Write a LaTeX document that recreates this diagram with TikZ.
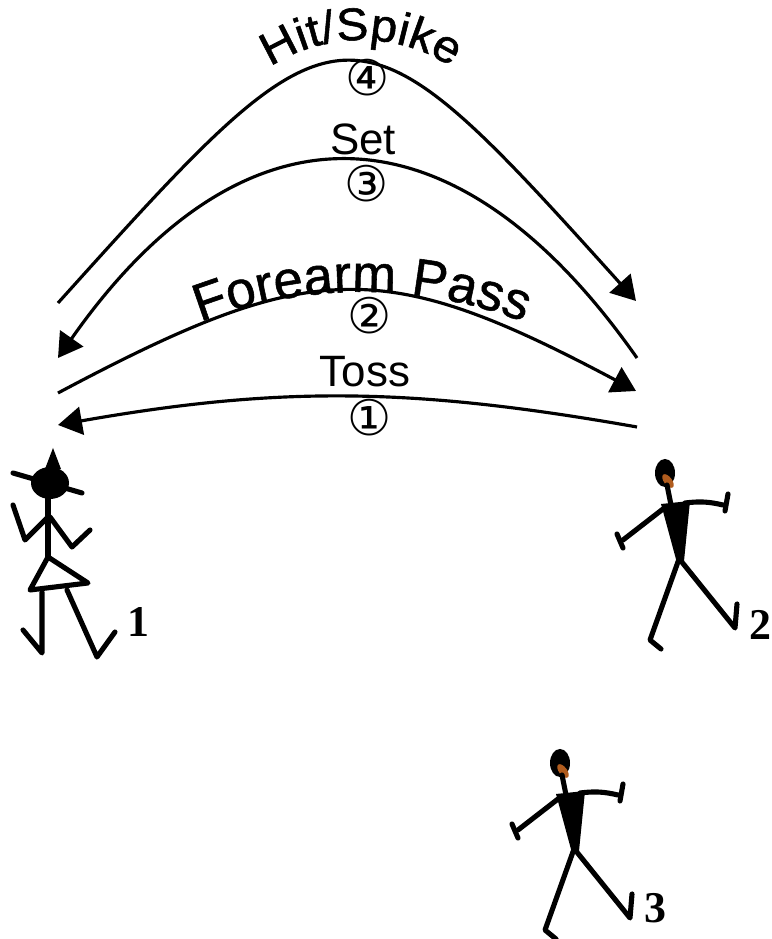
\documentclass[tikz,border=0pt]{standalone}
\usepackage{fontspec}
\setmainfont{Liberation Sans}
\newfontfamily\circfont{DejaVu Sans}
\newfontfamily\numfont{Liberation Serif}
\newfontfamily\spikefont[FakeStretch=1.05,FakeBold=1.2]{Liberation Sans}
\newfontfamily\passfont[FakeBold=1]{Liberation Sans}
\usetikzlibrary{arrows.meta,decorations.text}

\definecolor{skin}{RGB}{176,92,30}

\tikzset{
  motion/.style={line width=1.8pt, -{Triangle[length=0.48cm,width=0.56cm]}},
  stick/.style={line width=2.9pt, line cap=round, line join=round},
  skill/.style={font=\fontsize{25}{30}\selectfont, anchor=base},
  order/.style={font=\circfont\fontsize{28}{32}\selectfont},
  player/.style={font=\numfont\bfseries\fontsize{25}{30}\selectfont},
  % stick man walking to the right
  walker/.pic={
    \fill (0,0) ellipse[x radius=10, y radius=14];
    \fill[skin, rotate around={37:(3,-8)}] (3,-8) ellipse[x radius=4, y radius=8];
    \fill (-4,-31) -- (25,-28) -- (19,-88) -- (12,-90) -- cycle;
    \draw[stick] (2,-12) -- (6,-32);
    % arms
    \draw[stick] (-2,-36) -- (-42,-67);
    \draw[stick] (-48,-61) -- (-42,-75);
    \draw[stick] (20,-30) to[bend left=10] (58,-32);
    \draw[stick] (63,-21) -- (60,-38);
    % legs
    \draw[stick] (14,-86) -- (-15,-167) -- (-4,-176);
    \draw[stick] (16,-88) -- (70,-155) -- (72,-131);
  }
}

\begin{document}
\begin{tikzpicture}[x=0.02cm, y=0.02cm]
    \useasboundingbox (0,0) rectangle (771,939);

    % Ends of the four passes
    \coordinate (tossR) at (637,512);
    \coordinate (tossL) at (58,514);
    \coordinate (passL) at (58,546);
    \coordinate (passR) at (636,548);
    \coordinate (setR) at (637,581);
    \coordinate (setL) at (58,581);
    \coordinate (hitL) at (58,636);
    \coordinate (hitR) at (636,638);

    % Passes
    \draw[motion] (tossR) to[out=170, in=10] (tossL);
    \draw[motion] (passL) to[out=28, in=152, looseness=1.27] (passR);
    \draw[motion] (setR) to[out=125, in=55, looseness=1.42] (setL);
    \draw[motion] (hitL) to[out=48, in=132, looseness=1.9] (hitR);

    % Labels
    \node[skill] (toss) at (365,552) {Toss};
    \node[skill] (set) at (363,784) {Set};
    \node[order] (first) at (370,521) {①};
    \node[order] (second) at (370,623) {②};
    \node[order] (third) at (367,755) {③};
    \node[order] (fourth) at (368,861) {④};

    % Curved labels
    \path[decorate, decoration={text along path, text align=center,
        text={|\passfont\fontsize{30}{34}\selectfont|Forearm Pass}}]
        (362,197) ++(125:450) arc[start angle=125, end angle=55, radius=450];
    \path[decorate, decoration={text along path, text align=center,
        text={|\spikefont\fontsize{26}{30}\selectfont|Hit/Spike}}]
        (361,734) ++(155:165) arc[start angle=155, end angle=25, radius=165];

    % Player 1
    \fill (50,456) ellipse[x radius=19, y radius=16];
    \draw[stick] (13,466) -- (82,446);
    \fill (45,470) -- (53,491) -- (61,470) -- cycle;
    \draw[stick] (48,441) -- (48,382);
    \draw[stick] (48,422) -- (25,399) -- (13,434);
    \draw[stick] (50,422) -- (72,392) -- (90,409);
    \draw[stick] (48,382) -- (30,349) -- (88,356) -- cycle;
    \draw[stick] (42,347) -- (42,286) -- (23,309);
    \draw[stick] (67,349) -- (97,282) -- (115,307);

    % Players 2 and 3
    \pic at (665,466) {walker};
    \pic at (560,176) {walker};

    \node[player] (one) at (138,317) {1};
    \node[player] (two) at (760,314) {2};
    \node[player] (three) at (655,31) {3};
\end{tikzpicture}
\end{document}
